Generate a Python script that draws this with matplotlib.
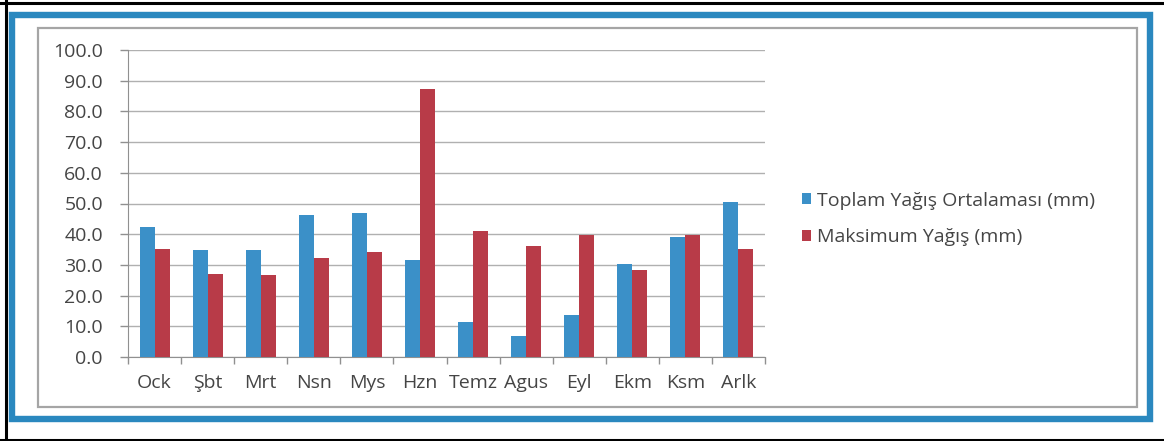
import matplotlib
matplotlib.use('Agg')
import matplotlib.pyplot as plt
from matplotlib.patches import Rectangle
from matplotlib.lines import Line2D
import numpy as np

months = ['Ock', 'Şbt', 'Mrt', 'Nsn', 'Mys', 'Hzn', 'Temz', 'Agus', 'Eyl', 'Ekm', 'Ksm', 'Arlk']
toplam = [42.5, 35.0, 35.0, 46.2, 46.8, 31.6, 11.4, 6.7, 13.7, 30.4, 39.2, 50.5]
maksimum = [35.3, 27.0, 26.7, 32.1, 34.2, 87.2, 41.0, 36.0, 39.9, 28.4, 39.9, 35.3]
labels = ['Toplam Yağış Ortalaması (mm)', 'Maksimum Yağış (mm)']

plt.rcParams['font.family'] = ['Open Sans', 'DejaVu Sans']
txt = '#454545'
blue = '#3b90c8'
red = '#b83b48'
fs = 14

W, H = 1164, 441
fig = plt.figure(figsize=(W/100, H/100), dpi=100)

# frames drawn in pixel coords of the figure
def px(x, y):
    return x / W, 1 - y / H

# black scan border
fig.add_artist(Line2D([0, 1], [1 - 2.5/H, 1 - 2.5/H], color='black', lw=2.2, transform=fig.transFigure))
fig.add_artist(Line2D([0, 1], [1 - 439.5/H, 1 - 439.5/H], color='black', lw=2.2, transform=fig.transFigure))
fig.add_artist(Line2D([5.5/W, 5.5/W], [0, 1], color='black', lw=2.2, transform=fig.transFigure))

# blue frame
x0, y0 = px(12, 418.5)
x1, y1 = px(1149.5, 15)
fig.add_artist(Rectangle((x0, y0), x1 - x0, y1 - y0, fill=False, ec='#2a88bf', lw=4.6,
                         transform=fig.transFigure))
# gray inner frame
x0, y0 = px(38, 407)
x1, y1 = px(1137, 27.5)
fig.add_artist(Rectangle((x0, y0), x1 - x0, y1 - y0, fill=False, ec='#a5a5a5', lw=1.6,
                         transform=fig.transFigure))

ax = fig.add_axes([128/W, 1 - 357/H, (765 - 128)/W, (357 - 50)/H])
x = np.arange(len(months))
bw = 0.283
ax.bar(x - bw/2, toplam, bw, color=blue, label=labels[0], zorder=3)
ax.bar(x + bw/2, maksimum, bw, color=red, label=labels[1], zorder=3)

ax.set_xlim(-0.5, len(months) - 0.5)
ax.set_ylim(0, 100)
ax.set_yticks(np.arange(0, 101, 10))
ax.set_yticklabels(['%.1f' % v for v in np.arange(0, 101, 10)])
ax.yaxis.grid(True, color='#b0b0b0', lw=1.0, zorder=0)
ax.set_xticks(x)
ax.set_xticklabels(months)
ax.set_xticks(np.arange(-0.5, len(months)), minor=True)
ax.tick_params(axis='x', which='major', length=0, pad=12, labelsize=fs, labelcolor=txt)
ax.tick_params(axis='x', which='minor', length=5, color='#909090', width=1)
ax.tick_params(axis='y', length=6, color='#909090', width=1, pad=12, labelsize=fs, labelcolor=txt)
for s in ['top', 'right']:
    ax.spines[s].set_visible(False)
ax.spines['left'].set_color('#909090')
ax.spines['bottom'].set_color('#909090')

leg = fig.legend(loc='center left', bbox_to_anchor=(784/W, 1 - 219/H), frameon=False,
                 handlelength=0.5, handleheight=0.5, handletextpad=0.3, labelspacing=0.95,
                 fontsize=fs)
for t in leg.get_texts():
    t.set_color(txt)

fig.savefig('out.png', dpi=100)
